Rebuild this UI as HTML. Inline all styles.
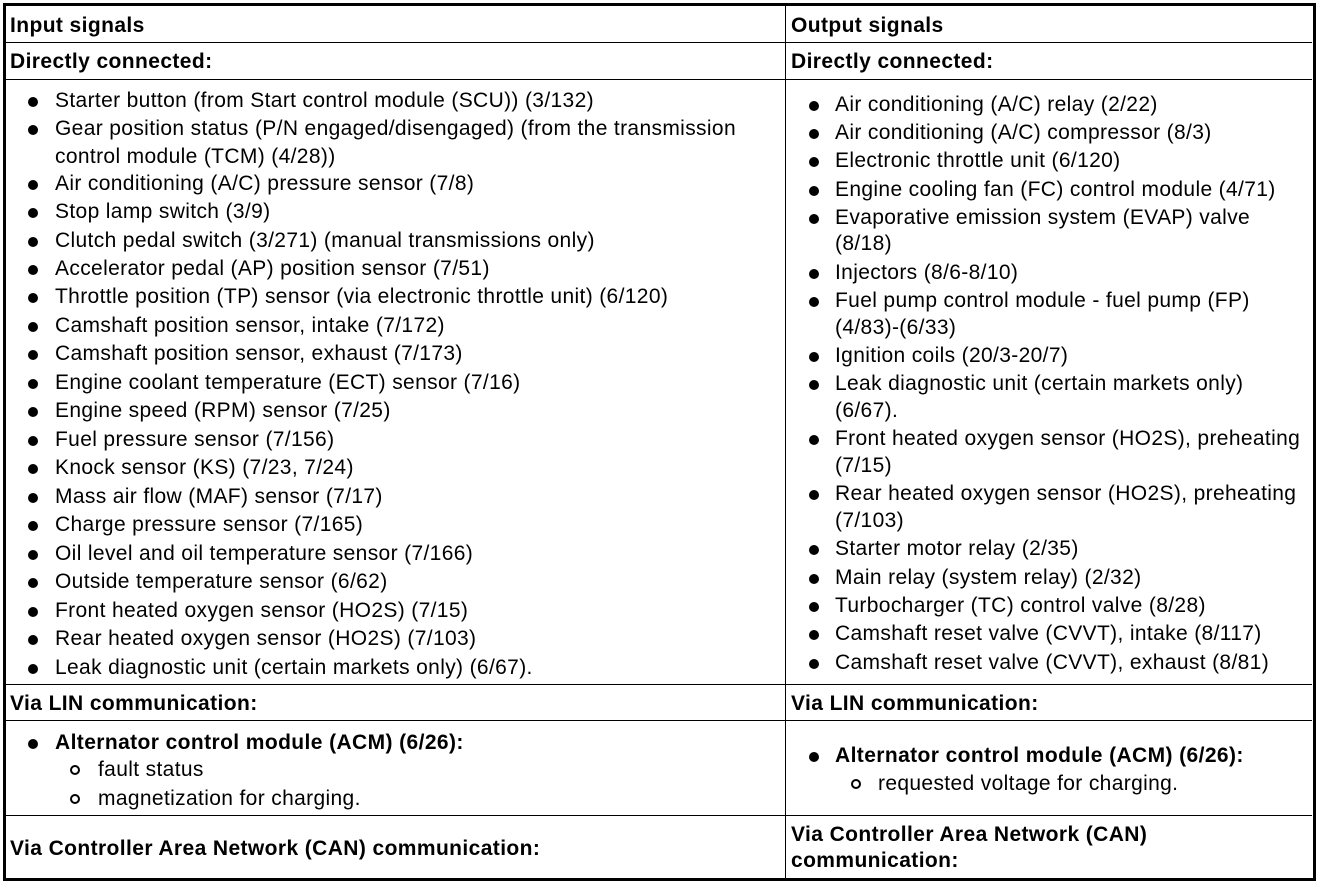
<!DOCTYPE html>
<html><head><meta charset="utf-8"><style>
body{margin:0;width:1328px;height:886px;background:#fff;position:relative;overflow:hidden;font-family:"Liberation Sans",Arial,sans-serif;font-size:21px;letter-spacing:0.35px;color:#000}
.t{position:absolute;line-height:22px;white-space:nowrap;margin-top:1px}
.b{font-weight:bold;letter-spacing:0.4px}
.h{position:absolute;height:1px;background:#000}
.v{position:absolute;width:1px;background:#000}
.d{position:absolute;width:10px;height:10px;border-radius:50%;background:#000;margin-top:1px}
.o{position:absolute;border-radius:50%;border:2px solid #000;box-sizing:border-box;width:10px;height:10px;margin-top:1px}
</style></head><body>
<div style="position:absolute;left:3px;top:3px;width:1307px;height:872px;border:3px solid #000"></div>
<div class="v" style="left:785px;top:4px;height:874px"></div>
<div class="h" style="left:4px;top:42px;width:1308px"></div>
<div class="h" style="left:4px;top:79px;width:1308px"></div>
<div class="h" style="left:4px;top:684px;width:1308px"></div>
<div class="h" style="left:4px;top:720px;width:1308px"></div>
<div class="h" style="left:4px;top:815px;width:1308px"></div>

<div class="t b" style="left:10px;top:14px">Input signals</div>
<div class="t b" style="left:791px;top:14px">Output signals</div>
<div class="t b" style="left:10px;top:50px">Directly connected:</div>
<div class="t b" style="left:791px;top:50px">Directly connected:</div>

<div class="d" style="left:28px;top:96px"></div><div class="t" style="left:55px;top:89px">Starter button (from Start control module (SCU)) (3/132)</div>
<div class="d" style="left:28px;top:124px"></div><div class="t" style="left:55px;top:117px">Gear position status (P/N engaged/disengaged) (from the transmission</div>
<div class="t" style="left:55px;top:145px">control module (TCM) (4/28))</div>
<div class="d" style="left:28px;top:179px"></div><div class="t" style="left:55px;top:172px">Air conditioning (A/C) pressure sensor (7/8)</div>
<div class="d" style="left:28px;top:207px"></div><div class="t" style="left:55px;top:200px">Stop lamp switch (3/9)</div>
<div class="d" style="left:28px;top:236px"></div><div class="t" style="left:55px;top:229px">Clutch pedal switch (3/271) (manual transmissions only)</div>
<div class="d" style="left:28px;top:264px"></div><div class="t" style="left:55px;top:257px">Accelerator pedal (AP) position sensor (7/51)</div>
<div class="d" style="left:28px;top:292px"></div><div class="t" style="left:55px;top:285px">Throttle position (TP) sensor (via electronic throttle unit) (6/120)</div>
<div class="d" style="left:28px;top:321px"></div><div class="t" style="left:55px;top:314px">Camshaft position sensor, intake (7/172)</div>
<div class="d" style="left:28px;top:349px"></div><div class="t" style="left:55px;top:342px">Camshaft position sensor, exhaust (7/173)</div>
<div class="d" style="left:28px;top:378px"></div><div class="t" style="left:55px;top:371px">Engine coolant temperature (ECT) sensor (7/16)</div>
<div class="d" style="left:28px;top:406px"></div><div class="t" style="left:55px;top:399px">Engine speed (RPM) sensor (7/25)</div>
<div class="d" style="left:28px;top:435px"></div><div class="t" style="left:55px;top:428px">Fuel pressure sensor (7/156)</div>
<div class="d" style="left:28px;top:463px"></div><div class="t" style="left:55px;top:456px">Knock sensor (KS) (7/23, 7/24)</div>
<div class="d" style="left:28px;top:492px"></div><div class="t" style="left:55px;top:485px">Mass air flow (MAF) sensor (7/17)</div>
<div class="d" style="left:28px;top:520px"></div><div class="t" style="left:55px;top:513px">Charge pressure sensor (7/165)</div>
<div class="d" style="left:28px;top:549px"></div><div class="t" style="left:55px;top:542px">Oil level and oil temperature sensor (7/166)</div>
<div class="d" style="left:28px;top:577px"></div><div class="t" style="left:55px;top:570px">Outside temperature sensor (6/62)</div>
<div class="d" style="left:28px;top:606px"></div><div class="t" style="left:55px;top:599px">Front heated oxygen sensor (HO2S) (7/15)</div>
<div class="d" style="left:28px;top:634px"></div><div class="t" style="left:55px;top:627px">Rear heated oxygen sensor (HO2S) (7/103)</div>
<div class="d" style="left:28px;top:663px"></div><div class="t" style="left:55px;top:656px">Leak diagnostic unit (certain markets only) (6/67).</div>

<div class="d" style="left:809px;top:100px"></div><div class="t" style="left:835px;top:93px">Air conditioning (A/C) relay (2/22)</div>
<div class="d" style="left:809px;top:128px"></div><div class="t" style="left:835px;top:121px">Air conditioning (A/C) compressor (8/3)</div>
<div class="d" style="left:809px;top:156px"></div><div class="t" style="left:835px;top:149px">Electronic throttle unit (6/120)</div>
<div class="d" style="left:809px;top:185px"></div><div class="t" style="left:835px;top:178px">Engine cooling fan (FC) control module (4/71)</div>
<div class="d" style="left:809px;top:213px"></div><div class="t" style="left:835px;top:206px">Evaporative emission system (EVAP) valve</div>
<div class="t" style="left:835px;top:232px">(8/18)</div>
<div class="d" style="left:809px;top:268px"></div><div class="t" style="left:835px;top:261px">Injectors (8/6-8/10)</div>
<div class="d" style="left:809px;top:296px"></div><div class="t" style="left:835px;top:289px">Fuel pump control module - fuel pump (FP)</div>
<div class="t" style="left:835px;top:316px">(4/83)-(6/33)</div>
<div class="d" style="left:809px;top:351px"></div><div class="t" style="left:835px;top:344px">Ignition coils (20/3-20/7)</div>
<div class="d" style="left:809px;top:379px"></div><div class="t" style="left:835px;top:372px">Leak diagnostic unit (certain markets only)</div>
<div class="t" style="left:835px;top:399px">(6/67).</div>
<div class="d" style="left:809px;top:434px"></div><div class="t" style="left:835px;top:427px">Front heated oxygen sensor (HO2S), preheating</div>
<div class="t" style="left:835px;top:454px">(7/15)</div>
<div class="d" style="left:809px;top:489px"></div><div class="t" style="left:835px;top:482px">Rear heated oxygen sensor (HO2S), preheating</div>
<div class="t" style="left:835px;top:509px">(7/103)</div>
<div class="d" style="left:809px;top:544px"></div><div class="t" style="left:835px;top:537px">Starter motor relay (2/35)</div>
<div class="d" style="left:809px;top:573px"></div><div class="t" style="left:835px;top:566px">Main relay (system relay) (2/32)</div>
<div class="d" style="left:809px;top:601px"></div><div class="t" style="left:835px;top:594px">Turbocharger (TC) control valve (8/28)</div>
<div class="d" style="left:809px;top:629px"></div><div class="t" style="left:835px;top:622px">Camshaft reset valve (CVVT), intake (8/117)</div>
<div class="d" style="left:809px;top:658px"></div><div class="t" style="left:835px;top:651px">Camshaft reset valve (CVVT), exhaust (8/81)</div>

<div class="t b" style="left:10px;top:692px">Via LIN communication:</div>
<div class="t b" style="left:791px;top:692px">Via LIN communication:</div>

<div class="d" style="left:28px;top:738px"></div><div class="t b" style="left:55px;top:731px">Alternator control module (ACM) (6/26):</div>
<div class="o" style="left:70px;top:764px"></div><div class="t" style="left:98px;top:758px">fault status</div>
<div class="o" style="left:70px;top:793px"></div><div class="t" style="left:98px;top:787px">magnetization for charging.</div>

<div class="d" style="left:809px;top:751px"></div><div class="t b" style="left:835px;top:744px">Alternator control module (ACM) (6/26):</div>
<div class="o" style="left:851px;top:778px"></div><div class="t" style="left:878px;top:772px">requested voltage for charging.</div>

<div class="t b" style="left:10px;top:837px">Via Controller Area Network (CAN) communication:</div>
<div class="t b" style="left:791px;top:823px">Via Controller Area Network (CAN)</div>
<div class="t b" style="left:791px;top:849px">communication:</div>
</body></html>
